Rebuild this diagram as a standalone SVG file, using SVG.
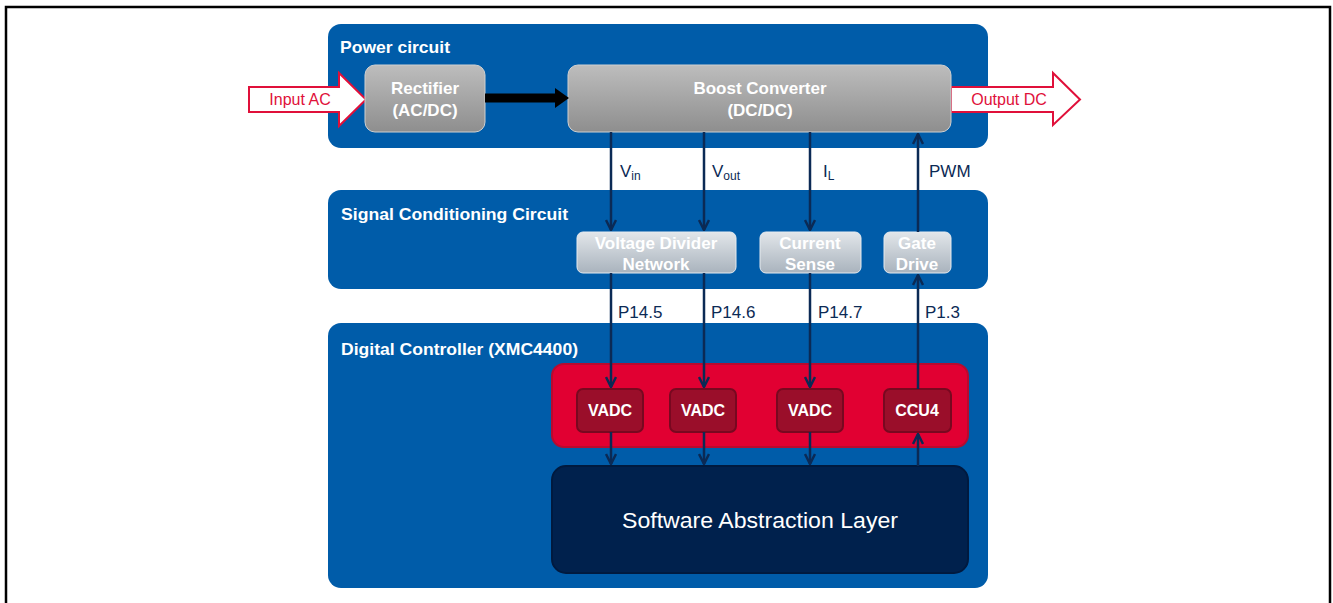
<svg xmlns="http://www.w3.org/2000/svg" width="1333" height="603" viewBox="0 0 1333 603">
<style>
.panel{fill:#005CA9;}
.ttl{font-family:"Liberation Sans",Arial,sans-serif;font-weight:bold;font-size:17px;fill:#fff;}
.gray{fill:url(#gGray);stroke:#d0d0d0;stroke-width:1;}
.lite{fill:url(#gLite);stroke:#e6ebf0;stroke-width:1;}
.btxt{font-family:"Liberation Sans",Arial,sans-serif;font-weight:bold;font-size:17px;fill:#fff;text-anchor:middle;}
.vtxt{font-family:"Liberation Sans",Arial,sans-serif;font-weight:bold;font-size:16px;fill:#fff;text-anchor:middle;}
.ltxt{font-family:"Liberation Sans",Arial,sans-serif;font-weight:bold;font-size:17px;fill:#fff;text-anchor:middle;}
.vadc{fill:#9A0E2A;stroke:#780820;stroke-width:2;}
.lbl{font-family:"Liberation Sans",Arial,sans-serif;font-size:17px;fill:#0B2A55;}
.sub{font-size:12px;}
.conn{stroke:#0B2A55;stroke-width:2.5;fill:none;}
.red{fill:#fff;stroke:#E0103A;stroke-width:2;}
.rtxt{font-family:"Liberation Sans",Arial,sans-serif;font-size:16px;fill:#E0103A;text-anchor:middle;}
</style>
<defs>
<linearGradient id="gGray" x1="0" y1="0" x2="0" y2="1">
<stop offset="0" stop-color="#bdbdbd"/>
<stop offset="1" stop-color="#8e8e8e"/>
</linearGradient>
<linearGradient id="gLite" x1="0" y1="0" x2="0" y2="1">
<stop offset="0" stop-color="#e2e6ea"/>
<stop offset="1" stop-color="#a9b3bd"/>
</linearGradient>
<marker id="ah" viewBox="0 0 10 10" refX="9" refY="5" markerWidth="5" markerHeight="5" orient="auto" markerUnits="strokeWidth">
<path d="M1,1 L9,5 L1,9" fill="none" stroke="#0B2A55" stroke-width="2"/>
</marker>
</defs>
<rect x="0" y="0" width="1333" height="603" fill="#fff"/>
<path d="M6,603 V7 H1330 V603" fill="none" stroke="#000" stroke-width="2.5"/>

<g id="power-circuit">
<rect class="panel" x="328" y="24" width="660" height="124" rx="13"/>
<text class="ttl" x="340" y="53" textLength="110" lengthAdjust="spacingAndGlyphs">Power circuit</text>
</g>
<g id="signal-conditioning">
<rect class="panel" x="328" y="190" width="660" height="99" rx="13"/>
<text class="ttl" x="341" y="220" textLength="227" lengthAdjust="spacingAndGlyphs">Signal Conditioning  Circuit</text>
</g>
<g id="digital-controller">
<rect class="panel" x="328" y="323" width="660" height="265" rx="13"/>
<text class="ttl" x="341" y="355" textLength="237" lengthAdjust="spacingAndGlyphs">Digital Controller (XMC4400)</text>
</g>
<g id="peripherals">
<rect x="552" y="364" width="416" height="83" rx="12" fill="#E10032" stroke="#B80A2E" stroke-width="2"/>
</g>

<g id="input-ac">
<path class="red" d="M249,87 H339 V73 L366,99.5 L339,126 V112 H249 Z"/>
<text class="rtxt" x="300" y="105">Input AC</text>
</g>
<g id="output-dc">
<path class="red" d="M951,87 H1053 V73 L1080,99.5 L1053,125 V112 H951 Z"/>
<text class="rtxt" x="1009" y="105">Output DC</text>
</g>

<g id="rectifier">
<rect class="gray" x="365" y="65" width="120" height="67" rx="10"/>
<text class="btxt" x="425" y="94">Rectifier</text>
<text class="btxt" x="425" y="116">(AC/DC)</text>
</g>
<g id="boost-converter">
<rect class="gray" x="568" y="65" width="383" height="67" rx="10"/>
<text class="btxt" x="760" y="94">Boost Converter</text>
<text class="btxt" x="760" y="116">(DC/DC)</text>
</g>

<g id="voltage-divider">
<rect class="lite" x="577" y="232" width="159" height="41" rx="6"/>
<text class="ltxt" x="656" y="249">Voltage Divider</text>
<text class="ltxt" x="656" y="270">Network</text>
</g>
<g id="current-sense">
<rect class="lite" x="760" y="232" width="101" height="41" rx="6"/>
<text class="ltxt" x="810" y="249">Current</text>
<text class="ltxt" x="810" y="270">Sense</text>
</g>
<g id="gate-drive">
<rect class="lite" x="884" y="232" width="67" height="41" rx="6"/>
<text class="ltxt" x="917" y="249">Gate</text>
<text class="ltxt" x="917" y="270">Drive</text>
</g>

<g id="vadc1"><rect class="vadc" x="577" y="389" width="66" height="43" rx="6"/><text class="vtxt" x="610" y="416">VADC</text></g>
<g id="vadc2"><rect class="vadc" x="670" y="389" width="66" height="43" rx="6"/><text class="vtxt" x="703" y="416">VADC</text></g>
<g id="vadc3"><rect class="vadc" x="777" y="389" width="66" height="43" rx="6"/><text class="vtxt" x="810" y="416">VADC</text></g>
<g id="ccu4"><rect class="vadc" x="884" y="389" width="67" height="43" rx="6"/><text class="vtxt" x="917" y="416">CCU4</text></g>

<g id="software-layer">
<rect x="552" y="466" width="416" height="107" rx="14" fill="#00214D" stroke="#001A3F" stroke-width="2"/>
<text x="760" y="528" font-family="'Liberation Sans',Arial,sans-serif" font-size="22" fill="#fff" text-anchor="middle" textLength="276" lengthAdjust="spacingAndGlyphs">Software Abstraction Layer</text>
</g>

<g id="connectors">
<path d="M485,98 H558" stroke="#000" stroke-width="9" fill="none"/>
<path d="M555,88 L569,98 L555,108 Z" fill="#000"/>
<path class="conn" d="M611,132 V230" marker-end="url(#ah)"/>
<path class="conn" d="M704,132 V230" marker-end="url(#ah)"/>
<path class="conn" d="M810,132 V230" marker-end="url(#ah)"/>
<path class="conn" d="M918,232 V134" marker-end="url(#ah)"/>
<path class="conn" d="M611,273 V387" marker-end="url(#ah)"/>
<path class="conn" d="M704,273 V387" marker-end="url(#ah)"/>
<path class="conn" d="M810,273 V387" marker-end="url(#ah)"/>
<path class="conn" d="M918,389 V275" marker-end="url(#ah)"/>
<path class="conn" d="M611,432 V464" marker-end="url(#ah)"/>
<path class="conn" d="M704,432 V464" marker-end="url(#ah)"/>
<path class="conn" d="M810,432 V464" marker-end="url(#ah)"/>
<path class="conn" d="M918,466 V434" marker-end="url(#ah)"/>
</g>

<g id="labels">
<text class="lbl" x="620" y="177">V<tspan class="sub" dy="3">in</tspan></text>
<text class="lbl" x="712" y="177">V<tspan class="sub" dy="3">out</tspan></text>
<text class="lbl" x="823" y="177">I<tspan class="sub" dy="3">L</tspan></text>
<text class="lbl" x="929" y="177">PWM</text>
<text class="lbl" x="618" y="318">P14.5</text>
<text class="lbl" x="711" y="318">P14.6</text>
<text class="lbl" x="818" y="318">P14.7</text>
<text class="lbl" x="925" y="318">P1.3</text>
</g>
</svg>
